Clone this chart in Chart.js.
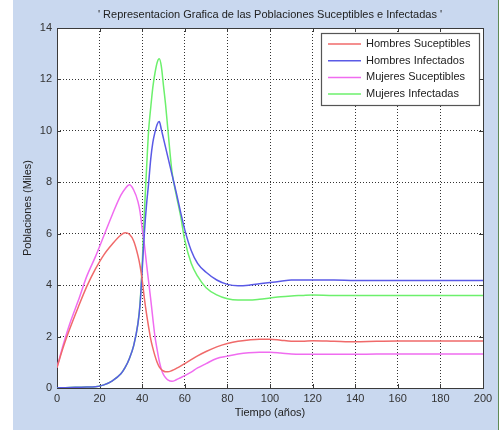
<!DOCTYPE html>
<html>
<head>
<meta charset="utf-8">
<script src="https://cdn.jsdelivr.net/npm/chart.js@4/dist/chart.umd.min.js"></script>
<style>
  html, body { margin: 0; padding: 0; background: #ffffff; }
  #frame {
    position: absolute; left: 13px; top: 0; width: 485px; height: 430px;
    background: #c9d8ef; border-right: 1px solid #5f8a55;
  }
  #frame canvas { display: block; }
</style>
</head>
<body>
<div id="frame"><canvas id="grafica" width="485" height="430"></canvas></div>
<script>
// Tiempo (años)
const tiempo = [0, 3, 6, 10, 14, 18, 22, 26, 30, 32, 34, 36, 38, 39,
  40, 41, 42, 43, 44, 45, 46, 47, 48, 49, 50, 51, 52,
  54, 56, 58, 60, 63, 66, 70, 75, 80, 85, 90, 95, 100,
  105, 110, 115, 120, 130, 140, 150, 160, 170, 180, 190, 200];

// Poblaciones (miles)
const hombresSuceptibles = [0.8, 1.6, 2.3, 3.15, 3.95, 4.62, 5.18, 5.6, 5.95, 6.04, 5.98, 5.72, 5.15, 4.75,
  4.2, 3.5, 2.9, 2.38, 1.9, 1.55, 1.25, 1.0, 0.82, 0.72, 0.66, 0.63, 0.63,
  0.68, 0.76, 0.85, 0.95, 1.1, 1.25, 1.42, 1.6, 1.73, 1.82, 1.87, 1.9, 1.9,
  1.86, 1.82, 1.82, 1.84, 1.82, 1.8, 1.82, 1.83, 1.83, 1.83, 1.83, 1.83];

const hombresInfectados = [0, 0.01, 0.02, 0.03, 0.04, 0.05, 0.12, 0.28, 0.55, 0.8, 1.15, 1.65, 2.5, 3.25,
  4.6, 6.0, 7.1, 7.95, 8.9, 9.55, 9.95, 10.25, 10.36, 10.05, 9.7, 9.35, 9.0,
  8.3, 7.6, 6.85, 6.15, 5.35, 4.85, 4.5, 4.2, 4.03, 3.98, 4.0, 4.05, 4.1,
  4.15, 4.2, 4.2, 4.2, 4.2, 4.18, 4.18, 4.18, 4.18, 4.18, 4.18, 4.18];

const mujeresSuceptibles = [0.8, 1.7, 2.5, 3.4, 4.35, 5.1, 5.92, 6.75, 7.5, 7.75, 7.9, 7.7, 7.25, 6.85,
  6.2, 5.6, 4.85, 4.15, 3.45, 2.7, 2.0, 1.5, 1.05, 0.72, 0.52, 0.4, 0.32,
  0.26, 0.32, 0.4, 0.48, 0.62, 0.78, 0.95, 1.15, 1.24, 1.32, 1.37, 1.39, 1.39,
  1.36, 1.32, 1.31, 1.31, 1.31, 1.31, 1.32, 1.32, 1.32, 1.32, 1.32, 1.32];

const mujeresInfectadas = [0, 0.01, 0.02, 0.03, 0.04, 0.05, 0.12, 0.28, 0.55, 0.8, 1.15, 1.65, 2.5, 3.3,
  4.8, 6.8, 8.45, 10.0, 10.9, 11.7, 12.25, 12.65, 12.8, 12.5, 11.75, 11.0, 10.1,
  8.4, 7.5, 6.7, 5.75, 4.85, 4.35, 3.9, 3.62, 3.47, 3.42, 3.42, 3.45, 3.5,
  3.55, 3.58, 3.6, 3.62, 3.6, 3.6, 3.6, 3.6, 3.6, 3.6, 3.6, 3.6];

const etiquetas = ['Hombres Suceptibles', 'Hombres Infectados', 'Mujeres Suceptibles', 'Mujeres Infectadas'];
const colores = ['#f06a6a', '#5a5ae6', '#f06cf0', '#6cf06c'];
const titulo = "' Representacion Grafica de las Poblaciones Suceptibles e Infectadas '";
const tituloX = 'Tiempo (años)';
const tituloY = 'Poblaciones (Miles)';

const FUENTE = '"Liberation Sans", Arial, sans-serif';
const series = [hombresSuceptibles, hombresInfectados, mujeresSuceptibles, mujeresInfectadas];

const datasets = series.map((vals, i) => ({
  label: etiquetas[i],
  data: tiempo.map((t, k) => ({ x: t, y: vals[k] })),
  borderColor: colores[i],
  backgroundColor: colores[i],
  borderWidth: 1.5,
  pointRadius: 0,
  fill: false,
  cubicInterpolationMode: 'monotone'
}));

// Figure background, white axes area, box and inward ticks (MATLAB-like)
const marco = {
  id: 'marco',
  beforeDraw(chart) {
    const { ctx, chartArea: a } = chart;
    ctx.save();
    ctx.fillStyle = '#c9d8ef';
    ctx.fillRect(0, 0, chart.width, chart.height);
    ctx.fillStyle = '#ffffff';
    ctx.fillRect(a.left, a.top, a.right - a.left, a.bottom - a.top);
    ctx.restore();
  },
  beforeDatasetsDraw(chart) {
    const { ctx, chartArea: a, scales } = chart;
    ctx.save();
    ctx.strokeStyle = '#3a3a3a';
    ctx.lineWidth = 1;
    ctx.strokeRect(Math.round(a.left) + 0.5, Math.round(a.top) + 0.5,
      Math.round(a.right - a.left), Math.round(a.bottom - a.top));
    const L = 4;
    ctx.beginPath();
    scales.x.ticks.forEach(t => {
      const px = Math.round(scales.x.getPixelForValue(t.value)) + 0.5;
      ctx.moveTo(px, a.bottom); ctx.lineTo(px, a.bottom - L);
      ctx.moveTo(px, a.top); ctx.lineTo(px, a.top + L);
    });
    scales.y.ticks.forEach(t => {
      const py = Math.round(scales.y.getPixelForValue(t.value)) + 0.5;
      ctx.moveTo(a.left, py); ctx.lineTo(a.left + L, py);
      ctx.moveTo(a.right, py); ctx.lineTo(a.right - L, py);
    });
    ctx.stroke();
    ctx.restore();
  },
  afterDraw(chart) {
    const { ctx, chartArea: a } = chart;
    ctx.save();
    // title
    ctx.fillStyle = '#222222';
    ctx.font = '11px ' + FUENTE;
    ctx.textAlign = 'center';
    ctx.textBaseline = 'middle';
    ctx.fillText(titulo, (a.left + a.right) / 2, 15);

    // legend box inside the axes, upper right
    const bx = a.right - 162, by = a.top + 5, bw = 158, bh = 72;
    ctx.fillStyle = '#ffffff';
    ctx.fillRect(bx, by, bw, bh);
    ctx.strokeStyle = '#555555';
    ctx.lineWidth = 1.2;
    ctx.strokeRect(bx + 0.5, by + 0.5, bw, bh);
    ctx.textAlign = 'left';
    chart.data.datasets.forEach((ds, i) => {
      const y = by + 11 + i * 16.7;
      ctx.strokeStyle = ds.borderColor;
      ctx.lineWidth = 1.5;
      ctx.beginPath();
      ctx.moveTo(bx + 7, y); ctx.lineTo(bx + 40, y);
      ctx.stroke();
      ctx.fillStyle = '#222222';
      ctx.fillText(ds.label, bx + 45, y);
    });
    ctx.restore();
  }
};

new Chart(document.getElementById('grafica'), {
  type: 'line',
  data: { datasets },
  options: {
    responsive: false,
    animation: false,
    layout: { padding: { left: 0, right: 15, top: 28, bottom: 0 } },
    plugins: { legend: { display: false }, tooltip: { enabled: false }, title: { display: false } },
    scales: {
      x: {
        type: 'linear', min: 0, max: 200,
        ticks: { stepSize: 20, color: '#333333', padding: 4, maxRotation: 0,
                 font: { family: FUENTE, size: 11 } },
        grid: { color: '#333333', lineWidth: 1, drawTicks: false },
        border: { display: false, dash: [1, 2] },
        title: { display: true, text: tituloX, color: '#222222',
                 font: { family: FUENTE, size: 11 }, padding: { top: 0, bottom: 10 } },
        afterFit(scale) { scale.height = 42; }
      },
      y: {
        type: 'linear', min: 0, max: 14,
        ticks: { stepSize: 2, color: '#333333', padding: 5,
                 font: { family: FUENTE, size: 11 } },
        grid: { color: '#333333', lineWidth: 1, drawTicks: false },
        border: { display: false, dash: [1, 2] },
        title: { display: true, text: tituloY, color: '#222222',
                 font: { family: FUENTE, size: 11 }, padding: { top: 8, bottom: 0 } },
        afterFit(scale) { scale.width = 44; }
      }
    }
  },
  plugins: [marco]
});
</script>
</body>
</html>
